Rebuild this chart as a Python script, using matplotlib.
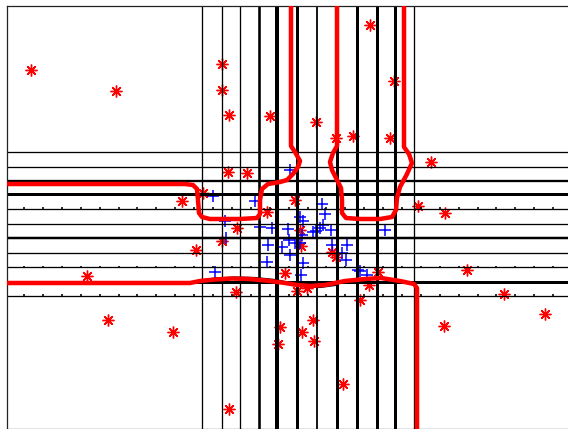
import numpy as np
import matplotlib
matplotlib.use("Agg")
import matplotlib.pyplot as plt

# ---- data (plot units; y axis points downward) ----
grid_x = [201.7, 221.7, 240.0, 258.7, 277.0, 296.7, 317.3, 337.0, 356.7, 376.7, 394.7, 414.0]
grid_x_w = [1.3, 1.3, 1.3, 2.6, 4.0, 3.0, 1.8, 3.0, 3.0, 3.0, 3.0, 1.3]
grid_y = [151.7, 166.7, 181.0, 194.3, 209.0, 224.0, 238.3, 253.0, 267.3, 282.3, 295.7]
grid_y_w = [1.3, 1.3, 2.3, 3.0, 1.3, 1.3, 2.5, 1.3, 1.3, 3.0, 1.3]
tick_rows = [209.0, 267.3, 295.7]
tick_x = np.arange(24.0, 560.0, 18.9)

red_x = [31, 116, 222, 222, 229, 270, 228, 247, 182, 203, 370, 394, 316, 336, 353, 390,
         431, 418, 445, 87, 108, 173, 196, 222, 237, 236, 229, 280, 278, 467, 504, 545,
         444, 313, 302, 314, 343, 360, 332, 336, 300, 301, 378, 369, 297, 267, 295, 285, 307]
red_y = [70, 91, 64, 90, 115, 116, 172, 173, 201, 193, 25, 81, 122, 138, 136, 138,
         162, 206, 213, 276, 320, 332, 250, 241, 228, 292, 409, 327, 344, 270, 294, 314,
         326, 320, 332, 341, 384, 300, 252, 257, 230, 246, 272, 285, 291, 212, 200, 273, 288]

blue_x = [290, 213, 255, 226, 300, 322, 325, 323, 316, 331, 320, 303, 385, 295, 302, 260,
          272, 288, 268, 282, 290, 267, 303, 301, 347, 342, 346, 360, 367, 215, 300, 332,
          289, 313, 225, 358]
blue_y = [170, 196, 201, 238, 217, 204, 214, 225, 231, 230, 228, 221, 230, 243, 235, 227,
          228, 229, 245, 247, 255, 262, 263, 275, 245, 253, 260, 271, 275, 272, 243, 245,
          240, 232, 221, 270]

curve_a_x = [291, 291, 295, 300, 298, 293, 287, 280, 268, 262, 260, 260, 257, 240, 210, 202, 199, 198, 197, 193, 185, 6]
curve_a_y = [6, 146, 152, 161, 167, 174, 180, 182, 184, 189, 200, 214, 218, 219, 219, 217, 213, 200, 189, 185, 184, 184]

curve_b_x = [337, 337, 333, 330, 332, 337, 341, 342, 342, 346, 360, 380, 392, 396, 397, 400, 407, 412, 409, 404, 404]
curve_b_y = [6, 146, 153, 162, 170, 180, 188, 200, 213, 218, 219, 219, 217, 210, 198, 187, 174, 163, 154, 147, 6]

curve_c_x = [6, 190, 200, 215, 232, 250, 270, 285, 297, 310, 325, 345, 365, 381, 400, 414, 417, 417]
curve_c_y = [283, 283, 281, 279.5, 278.5, 279, 281, 283, 285, 286, 285, 281, 279, 278, 281, 284, 288, 430]

black_c_x = [198, 215, 235, 255, 275, 290, 305, 320, 335]
black_c_y = [281, 278.5, 277.5, 278, 280, 283, 286.5, 287, 285]

# ---- figure ----
W, H = 568, 429
fig = plt.figure(figsize=(W / 100, H / 100), dpi=100)
x0, x1 = 6.5, 580.0
y_top, y_bot = 6.0, 428.5
ax = fig.add_axes([x0 / W, (H - y_bot) / H, (x1 - x0) / W, (y_bot - y_top) / H])
ax.set_xlim(x0, x1)
ax.set_ylim(y_bot, y_top)
ax.set_xticks([])
ax.set_yticks([])
for s in ax.spines.values():
    s.set_linewidth(0.9)
    s.set_color('#222222')

px = 0.72  # points per pixel

ax.plot(red_x, red_y, linestyle='none', marker=(8, 2, 0), markersize=8.5,
        markeredgewidth=1.0, color='#ff0000', zorder=1)
ax.plot(blue_x, blue_y, linestyle='none', marker='+', markersize=8,
        markeredgewidth=1.1, color='#0000ff', zorder=1)

for xv, w in zip(grid_x, grid_x_w):
    ax.axvline(xv, color='black', linewidth=w * px, zorder=2)
for yv, w in zip(grid_y, grid_y_w):
    ax.axhline(yv, color='black', linewidth=w * px, zorder=2)
for yv in tick_rows:
    ax.vlines(tick_x, yv - 1.8, yv, color='black', linewidth=1.6 * px, zorder=2)

ax.plot(black_c_x, black_c_y, color='black', linewidth=2.2 * px, zorder=2.5)

for cx, cy in [(curve_a_x, curve_a_y), (curve_b_x, curve_b_y), (curve_c_x, curve_c_y)]:
    ax.plot(cx, cy, color='#ff0000', linewidth=4.5 * px, solid_joinstyle='round',
            solid_capstyle='butt', zorder=3)

fig.savefig("out.png", dpi=100)
